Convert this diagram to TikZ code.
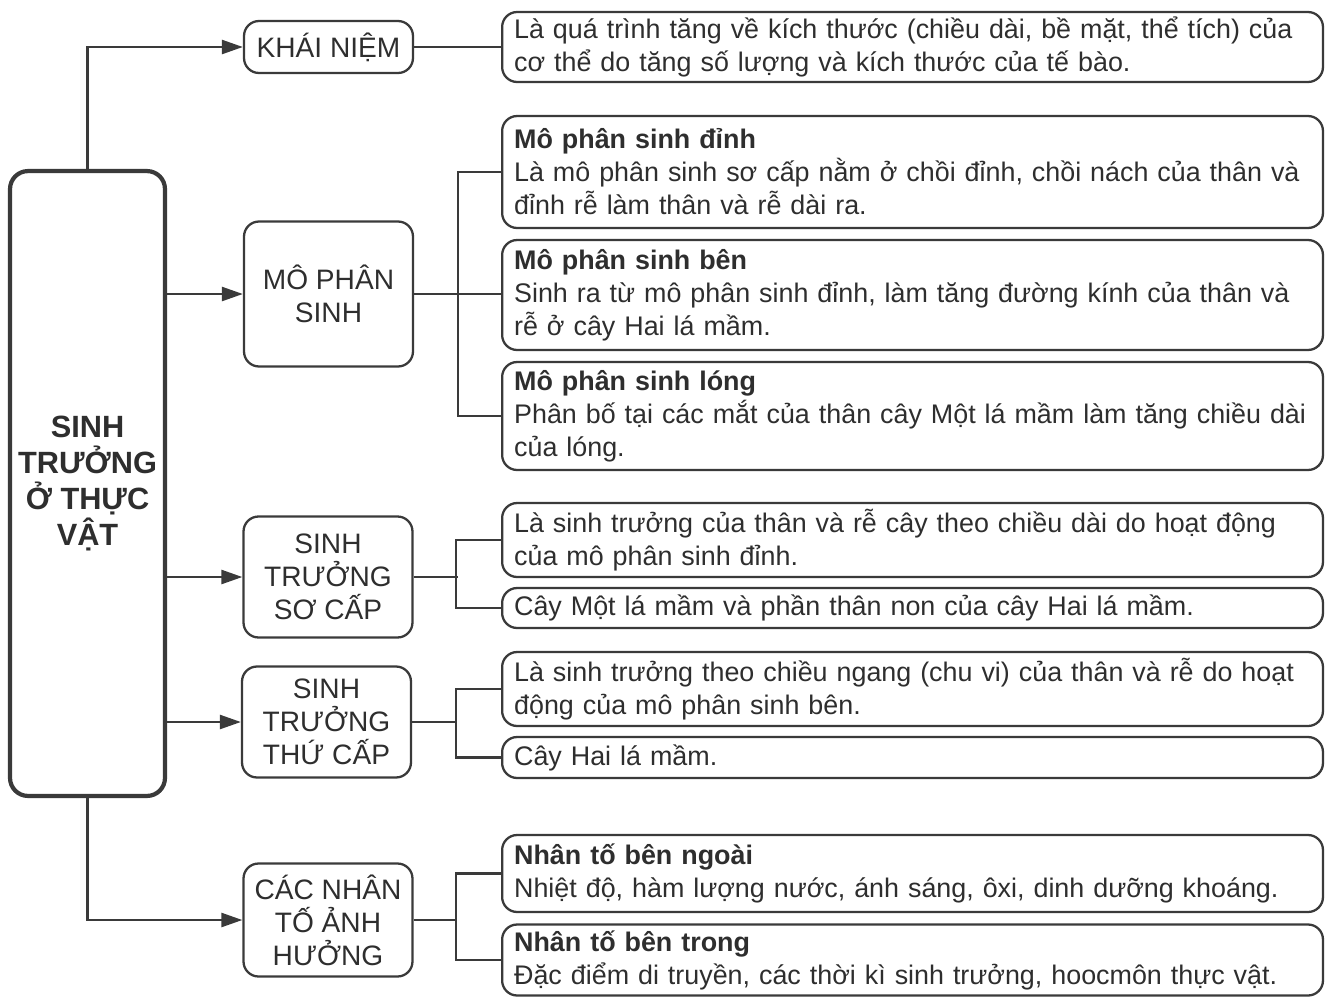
\documentclass[tikz,border=0pt]{standalone}
\usepackage{fontspec}
\setmainfont{Liberation Sans}
\usepackage{tikz}
\usetikzlibrary{arrows.meta}
\definecolor{inkgray}{HTML}{2E2E2E}
\definecolor{linegray}{HTML}{3A3A3A}

\begin{document}
\begin{tikzpicture}[x=0.02cm, y=-0.02cm,
    mainbox/.style={draw=linegray, text=inkgray, line width=2.4pt, rounded corners=0.36cm,
        minimum width=3.1cm, minimum height=12.5cm, align=center,
        font=\fontsize{17.5}{20.5}\selectfont\bfseries},
    midbox/.style={draw=linegray, text=inkgray, line width=1.3pt, rounded corners=0.3cm,
        minimum width=3.38cm, inner sep=0pt, align=center,
        font=\fontsize{16}{18.8}\selectfont},
    infobox/.style={draw=linegray, text=inkgray, line width=1.3pt, rounded corners=0.3cm,
        anchor=west, text width=15.94cm, inner xsep=0.24cm, inner ysep=0pt, align=left,
        font=\fontsize{15.3}{18.8}\selectfont},
    link/.style={draw=linegray, line width=1.4pt},
    arrowlink/.style={link, -{Triangle[length=0.42cm, width=0.28cm]}}]
    \useasboundingbox (0,0) rectangle (1333,998);
    %%Khung chính
    \node[mainbox] (plant) at (87.5,483.5) {SINH\\TRƯỞNG\\Ở THỰC\\VẬT};
    %%Các khung giữa
    \node[midbox, minimum height=1.04cm] (concept) at (328.5,47) {KHÁI NIỆM};
    \node[midbox, minimum height=2.9cm] (meristem) at (328.5,294) {MÔ PHÂN\\SINH};
    \node[midbox, minimum height=2.42cm] (primary) at (328,577) {SINH\\TRƯỞNG\\SƠ CẤP};
    \node[midbox, minimum height=2.22cm] (secondary) at (326.5,722) {SINH\\TRƯỞNG\\THỨ CẤP};
    \node[midbox, minimum height=2.26cm] (factor) at (328,920) {CÁC NHÂN\\TỐ ẢNH\\HƯỞNG};
    %%Các khung nội dung
    \node[infobox, minimum height=1.40cm] (conceptinfo) at (501,47)
        {Là quá trình tăng về kích thước (chiều dài, bề mặt, thể tích) của\\cơ thể do tăng số lượng và kích thước của tế bào.};
    \node[infobox, minimum height=2.24cm] (apical) at (501,172)
        {\textbf{Mô phân sinh đỉnh}\\Là mô phân sinh sơ cấp nằm ở chồi đỉnh, chồi nách của thân và\\đỉnh rễ làm thân và rễ dài ra.};
    \node[infobox, minimum height=2.20cm] (lateral) at (501,295)
        {\textbf{Mô phân sinh bên}\\Sinh ra từ mô phân sinh đỉnh, làm tăng đường kính của thân và\\rễ ở cây Hai lá mầm.};
    \node[infobox, minimum height=2.16cm] (intercalary) at (501,416)
        {\textbf{Mô phân sinh lóng}\\Phân bố tại các mắt của thân cây Một lá mầm làm tăng chiều dài\\của lóng.};
    \node[infobox, minimum height=1.48cm] (primlength) at (501,540)
        {Là sinh trưởng của thân và rễ cây theo chiều dài do hoạt động\\của mô phân sinh đỉnh.};
    \node[infobox, minimum height=0.80cm] (primplant) at (501,608)
        {Cây Một lá mầm và phần thân non của cây Hai lá mầm.};
    \node[infobox, minimum height=1.48cm] (secwidth) at (501,689)
        {Là sinh trưởng theo chiều ngang (chu vi) của thân và rễ do hoạt\\động của mô phân sinh bên.};
    \node[infobox, minimum height=0.82cm] (secplant) at (501,757.5)
        {Cây Hai lá mầm.};
    \node[infobox, minimum height=1.54cm] (outside) at (501,873.5)
        {\textbf{Nhân tố bên ngoài}\\Nhiệt độ, hàm lượng nước, ánh sáng, ôxi, dinh dưỡng khoáng.};
    \node[infobox, minimum height=1.42cm] (inside) at (501,960)
        {\textbf{Nhân tố bên trong}\\Đặc điểm di truyền, các thời kì sinh trưởng, hoocmôn thực vật.};
    %%Mũi tên từ khung chính
    \draw[arrowlink] (plant.north) |- (concept.west);
    \draw[arrowlink] (plant.east |- meristem.west) -- (meristem.west);
    \draw[arrowlink] (plant.east |- primary.west) -- (primary.west);
    \draw[arrowlink] (plant.east |- secondary.west) -- (secondary.west);
    \draw[arrowlink] (plant.south) |- (factor.west);
    %%Các nhánh
    \draw[link] (concept.east) -- (conceptinfo.west);
    \draw[link] (meristem.east) -- (meristem.east -| lateral.west);
    \draw[link] (apical.west) -- ++(-43,0) |- (intercalary.west);
    \draw[link] (primary.east) -- ++(44,0);
    \draw[link] (primlength.west) -- ++(-45,0) |- (primplant.west);
    \draw[link] (secondary.east) -- ++(45,0);
    \draw[link] (secwidth.west) -- ++(-45,0) |- (secplant.west);
    \draw[link] (factor.east) -- ++(43,0);
    \draw[link] (outside.west) -- ++(-45,0) |- (inside.west);
\end{tikzpicture}
\end{document}
